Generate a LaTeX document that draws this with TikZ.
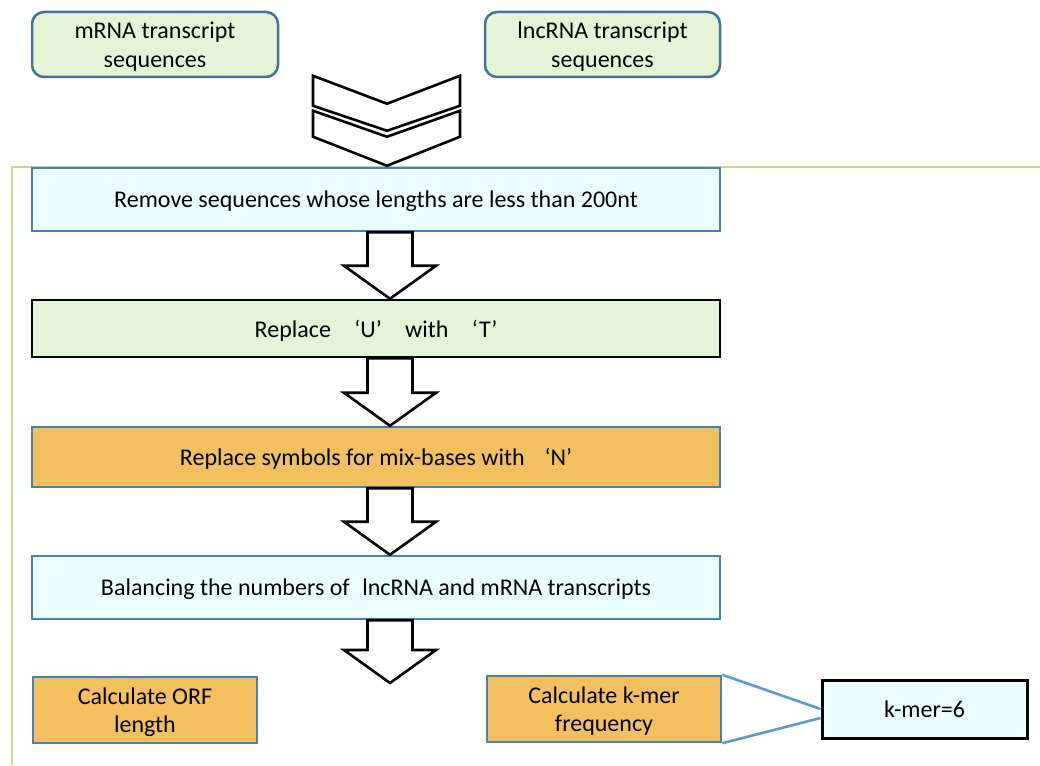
\documentclass[tikz,border=0pt]{standalone}
\usepackage{fontspec}
\setmainfont{Carlito}
\usetikzlibrary{calc}
\definecolor{lgreen}{HTML}{E5F4D7}
\definecolor{lcyan}{HTML}{EBFEFF}
\definecolor{orng}{HTML}{F2C05E}
\definecolor{bborder}{HTML}{4A7EBB}
\definecolor{tborder}{HTML}{41719C}
\definecolor{frameol}{HTML}{D4D488}
\definecolor{linkblue}{HTML}{5B9BD5}
\tikzset{
  txt/.style={font=\fontsize{24}{28.5}\selectfont, align=center, inner sep=0pt, text depth=0pt},
  topbox/.style={txt, draw=tborder, line width=2.5pt, fill=lgreen, rounded corners=12pt, minimum height=65pt},
  stepbox/.style={txt, draw=bborder, line width=2.5pt, minimum width=688pt},
  blk/.style={draw=black, line width=2.6pt, fill=white, line join=miter},
  framel/.style={draw=frameol, line width=2.2pt},
  link/.style={draw=linkblue, line width=2.6pt}
}
\newcommand{\blockarrow}[2]{%
  \draw[blk] let \p1=(#1), \p2=(#2) in
    (\x1-22.5pt,\y1) -- (\x1-22.5pt,\y2+33pt) -- (\x1-46pt,\y2+33pt) -- (\x1,\y2)
    -- (\x1+46pt,\y2+33pt) -- (\x1+22.5pt,\y2+33pt) -- (\x1+22.5pt,\y1) -- cycle;}
\begin{document}
\begin{tikzpicture}[x=1pt,y=-1pt]
\useasboundingbox (0,0) rectangle (1040,765);
% frame line
\draw[framel] (1040,167) -- (12,167) -- (12,765);
% top source boxes
\node[topbox, minimum width=246pt] (mrna) at (155,44.5) {mRNA transcript\\sequences};
\node[topbox, minimum width=235pt] (lnc) at (602.5,44.5) {lncRNA transcript\\sequences};
% steps
\node[stepbox, fill=lcyan, minimum height=63pt] (b1) at (376,199.5) {Remove sequences whose lengths are less than 200nt};
\node[stepbox, fill=lgreen, draw=black, minimum height=57pt] (b2) at (376,328.5) {Replace\hspace{0.75em} ‘U’\hspace{0.75em} with\hspace{0.75em} ‘T’};
\node[stepbox, fill=orng, minimum height=60pt] (b3) at (376,457) {Replace symbols for mix-bases with\hspace{0.6em} ‘N’};
\node[stepbox, fill=lcyan, minimum height=63pt] (b4) at (376,587.5) {Balancing the numbers of\hspace{0.3em} lncRNA and mRNA transcripts};
\node[txt, draw=bborder, line width=2.5pt, fill=orng, minimum width=224pt, minimum height=66pt] (b5) at (145,710) {Calculate ORF\\length};
\node[txt, draw=bborder, line width=2.5pt, fill=orng, minimum width=234pt, minimum height=66pt] (b6) at (604,709) {Calculate k-mer\\frequency};
\node[txt, draw=black, line width=3pt, fill=lcyan, minimum width=205pt, minimum height=58pt] (b7) at (924.5,709) {k-mer=6};
% links to k-mer box
\draw[link] (b6.north east) -- (b7.west);
\draw[link] (b6.south east) -- ([shift={(0,-9pt)}]b7.west);
% chevrons
\coordinate (cax) at (387,0);
\coordinate (ctop) at (b1.north -| cax);
\draw[blk] ($(ctop)+(-74,-91)$) -- ($(ctop)+(0,-63)$) -- ($(ctop)+(73,-91)$) -- ($(ctop)+(73,-61)$)
  -- ($(ctop)+(0,-36)$) -- ($(ctop)+(-74,-61)$) -- cycle;
\draw[blk] ($(ctop)+(-74,-56)$) -- ($(ctop)+(0,-30)$) -- ($(ctop)+(73,-56)$) -- ($(ctop)+(73,-30)$)
  -- ($(ctop)+(0,-1)$) -- ($(ctop)+(-74,-30)$) -- cycle;
% block arrows
\coordinate (ax) at (390,0);
\coordinate (a1s) at (b1.south -| ax);
\coordinate (a1e) at (b2.north -| ax);
\coordinate (a2s) at (b2.south -| ax);
\coordinate (a2e) at (b3.north -| ax);
\coordinate (a3s) at (b3.south -| ax);
\coordinate (a3e) at (b4.north -| ax);
\coordinate (a4s) at (b4.south -| ax);
\coordinate (a4e) at (390,683);
\blockarrow{a1s}{a1e}
\blockarrow{a2s}{a2e}
\blockarrow{a3s}{a3e}
\blockarrow{a4s}{a4e}
\end{tikzpicture}
\end{document}
